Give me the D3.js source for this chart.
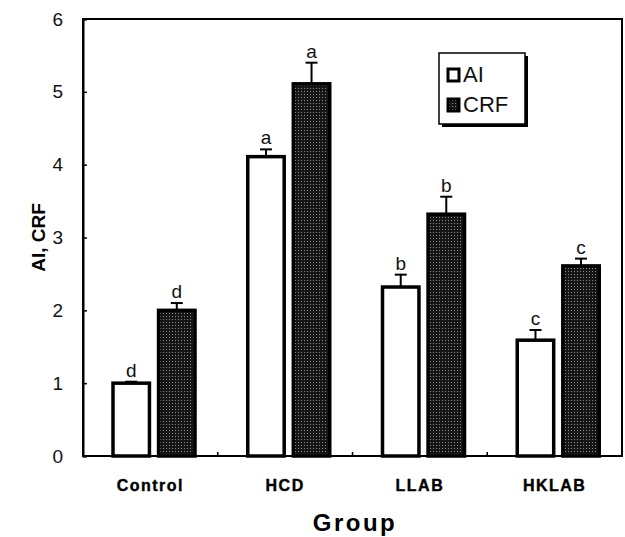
<!DOCTYPE html>
<html>
<head>
<meta charset="utf-8">
<script src="https://cdn.jsdelivr.net/npm/d3@7"></script>
<style>
  body { margin: 0; background: #fff; }
  svg { display: block; font-family: Arial, "Liberation Sans", sans-serif; }
</style>
</head>
<body>
<div id="chart"></div>
<script>
const groups = ["Control", "HCD", "LLAB", "HKLAB"];
const series = ["AI", "CRF"];
const aiValues = [1.0, 4.11, 2.32, 1.59];
const aiErrors = [0.02, 0.1, 0.17, 0.14];
const crfValues = [2.0, 5.11, 3.32, 2.61];
const crfErrors = [0.1, 0.29, 0.24, 0.1];
const aiLetters = ["d", "a", "b", "c"];
const crfLetters = ["d", "a", "b", "c"];
const yTicks = [0, 1, 2, 3, 4, 5, 6];

const width = 625;
const height = 537;
const margin = { top: 19, right: 3, bottom: 81, left: 83 };

const svg = d3.select("#chart")
  .append("svg")
  .attr("width", width)
  .attr("height", height);

// dotted dark fill for CRF bars
const defs = svg.append("defs");
const pat = defs.append("pattern")
  .attr("id", "crfFill")
  .attr("width", 3)
  .attr("height", 3)
  .attr("patternUnits", "userSpaceOnUse");
pat.append("rect").attr("width", 3).attr("height", 3).attr("fill", "#151515");
pat.append("rect").attr("x", 1).attr("y", 1).attr("width", 1).attr("height", 1).attr("fill", "#8a8a8a");

const x = d3.scaleBand()
  .domain(groups)
  .range([margin.left, width - margin.right]);

const xs = d3.scaleBand()
  .domain(series)
  .range([30, 112])
  .paddingInner(0.2);

const y = d3.scaleLinear()
  .domain([0, 6])
  .range([height - margin.bottom, margin.top]);

const rows = [];
groups.forEach((g, i) => {
  rows.push({ g, s: "AI", v: aiValues[i], e: aiErrors[i], l: aiLetters[i] });
  rows.push({ g, s: "CRF", v: crfValues[i], e: crfErrors[i], l: crfLetters[i] });
});

// frame
svg.append("rect")
  .attr("x", margin.left)
  .attr("y", margin.top)
  .attr("width", width - margin.left - margin.right)
  .attr("height", height - margin.top - margin.bottom)
  .attr("fill", "none")
  .attr("stroke", "#000")
  .attr("stroke-width", 2);

// y axis ticks inward
const yAxis = d3.axisLeft(y)
  .tickValues(yTicks)
  .tickFormat(d3.format("d"))
  .tickSize(-4)
  .tickPadding(20);
const yg = svg.append("g")
  .attr("transform", `translate(${margin.left},0)`)
  .call(yAxis);
yg.select(".domain").attr("stroke-width", 2);
yg.selectAll(".tick line").attr("stroke-width", 1.5);
yg.selectAll(".tick text")
  .attr("font-size", 19)
  .attr("fill", "#111")
  .attr("font-family", "Arial, 'Liberation Sans', sans-serif");

// x axis: small ticks between groups, labels centered
const xg = svg.append("g")
  .attr("transform", `translate(0,${y(0)})`);
xg.selectAll("line.sep")
  .data(groups.slice(1))
  .enter()
  .append("line")
  .attr("x1", d => x(d))
  .attr("x2", d => x(d))
  .attr("y1", 0)
  .attr("y2", -4)
  .attr("stroke", "#000")
  .attr("stroke-width", 1.5);
xg.selectAll("text")
  .data(groups)
  .enter()
  .append("text")
  .attr("x", d => x(d) + x.bandwidth() / 2)
  .attr("y", 35)
  .attr("text-anchor", "middle")
  .attr("font-size", 16)
  .attr("font-weight", "bold")
  .attr("letter-spacing", 1.5)
  .attr("stroke", "#000")
  .attr("stroke-width", 0.4)
  .text(d => d);

// bars
const bars = svg.append("g");
bars.selectAll("rect")
  .data(rows)
  .enter()
  .append("rect")
  .attr("x", d => x(d.g) + xs(d.s))
  .attr("y", d => y(d.v))
  .attr("width", xs.bandwidth())
  .attr("height", d => y(0) - y(d.v))
  .attr("fill", d => d.s === "AI" ? "#fff" : "url(#crfFill)")
  .attr("stroke", "#000")
  .attr("stroke-width", 3.5);

// error bars
const err = svg.append("g").attr("stroke", "#000").attr("stroke-width", 2);
err.selectAll("line.v")
  .data(rows)
  .enter()
  .append("line")
  .attr("x1", d => x(d.g) + xs(d.s) + xs.bandwidth() / 2)
  .attr("x2", d => x(d.g) + xs(d.s) + xs.bandwidth() / 2)
  .attr("y1", d => y(d.v))
  .attr("y2", d => y(d.v + d.e));
err.selectAll("line.c")
  .data(rows)
  .enter()
  .append("line")
  .attr("x1", d => x(d.g) + xs(d.s) + xs.bandwidth() / 2 - 6)
  .attr("x2", d => x(d.g) + xs(d.s) + xs.bandwidth() / 2 + 6)
  .attr("y1", d => y(d.v + d.e))
  .attr("y2", d => y(d.v + d.e));

// significance letters
svg.append("g").selectAll("text")
  .data(rows)
  .enter()
  .append("text")
  .attr("x", d => x(d.g) + xs(d.s) + xs.bandwidth() / 2)
  .attr("y", d => y(d.v + d.e) - 5)
  .attr("text-anchor", "middle")
  .attr("font-size", 19)
  .attr("fill", "#111")
  .text(d => d.l);

// legend with shadow
const lg = svg.append("g").attr("transform", "translate(439,53)");
lg.append("rect")
  .attr("x", 3).attr("y", 3)
  .attr("width", 86).attr("height", 71)
  .attr("fill", "#000");
lg.append("rect")
  .attr("width", 86).attr("height", 71)
  .attr("fill", "#fff")
  .attr("stroke", "#000")
  .attr("stroke-width", 1.5);
const legendItems = lg.selectAll("g.item")
  .data(series)
  .enter()
  .append("g")
  .attr("transform", (d, i) => `translate(9,${16 + i * 30})`);
legendItems.append("rect")
  .attr("width", 11).attr("height", 12)
  .attr("fill", d => d === "AI" ? "#fff" : "url(#crfFill)")
  .attr("stroke", "#000")
  .attr("stroke-width", 3);
legendItems.append("text")
  .attr("x", 15)
  .attr("y", 13)
  .attr("font-size", 22)
  .attr("fill", "#111")
  .text(d => d);

// axis titles
svg.append("text")
  .attr("transform", `translate(45,${(y(0) + y(6)) / 2}) rotate(-90)`)
  .attr("text-anchor", "middle")
  .attr("font-size", 19)
  .attr("font-weight", "bold")
  .text("AI, CRF");

svg.append("text")
  .attr("x", 355)
  .attr("y", 531)
  .attr("text-anchor", "middle")
  .attr("font-size", 24)
  .attr("font-weight", "bold")
  .attr("letter-spacing", 2.5)
  .text("Group");
</script>
</body>
</html>
